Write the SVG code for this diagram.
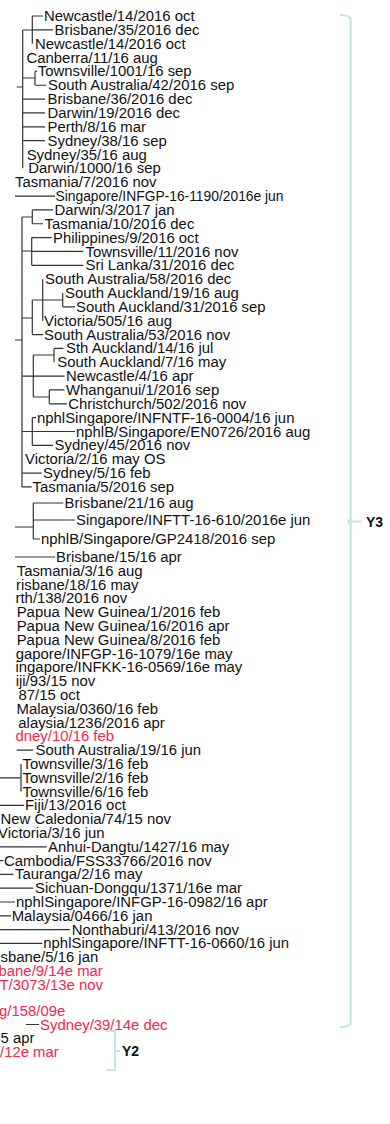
<svg xmlns="http://www.w3.org/2000/svg" width="390" height="1124" viewBox="0 0 390 1124">
<style>
.t{font-family:"Liberation Sans",Arial,Helvetica,sans-serif;font-size:14.9px;fill:#111}
.r{fill:#ee2a4e}
.br{stroke:#333;stroke-width:1.2;fill:none}
.bk{stroke:#c5e4e8;stroke-width:2;fill:none}
.y{font-family:"Liberation Sans",Arial,Helvetica,sans-serif;font-size:14px;font-weight:bold;fill:#111}
</style>
<rect width="390" height="1124" fill="#fff"/>
<g id="connectors" class="br">
<path d="M32.3 16V43.7M32.3 16H43M32.3 29.85H53M22.7 30H32.3M22.7 30V168.35M35 71.4V85.25M35 71.4H37M35 85.25H46.5M22.7 78H35M22.7 99.1H45M22.7 112.95H45M22.7 126.8H45M22.7 140.65H45M16.7 87H22.7M15 196.05H55"/>
<path d="M22 217V486.9M32.3 209.9V223.75M32.3 209.9H53M32.3 223.75H43M22 217H32.3M31.7 237.6V265.3M31.7 237.6H51.7M31.7 251.45H83.3M31.7 265.3H83.3M22 251H31.7M42.7 279.15V320.7M62.7 293V306.85M62.7 306.85H75M42.7 300H62.7M32.3 300V334.55M32.3 300H42.7M32.3 334.55H43M22 318H32.3M15 340H22"/>
<path d="M33.3 355V397M54 348.4V362.25M54 348.4H63.5M33.3 355H54M33.3 376.1H64.5M49.3 389.95V403.8M49.3 389.95H64.5M49.3 403.8H67M33.3 397H49.3M22 376.1H33.3M32.3 417.65V445.35M32.3 417.65H36M32.3 431.5H75M32.3 445.35H53M22 431.5H32.3M22 473.05H41.7M22 486.9H31.7"/>
<path d="M33.3 503V539M33.3 503H63.3M33.3 520H75M33.3 539H40M15 527H33.3M15 557H55"/>
<path d="M16.7 750.2H33.3M21 764V791.6M0 777.8H21M0 805.4H24M0 846.8H46.7M0 860.6H3.5M0 874.4H13.5M0 888.2H33.3M0 902H15M0 915.8H11M0 929.6H70M0 943.4H42.3M26 1024.5H39"/>
</g>
<g id="brackets" class="bk">
<path d="M340 15Q350.7 15 350.7 20V1022Q350.7 1027 340 1027"/>
<path d="M350.7 518L348 521.5L350.7 525M350.7 521.5H362"/>
<path d="M106 1031H115V1070H106M115 1051H120"/>
</g>
<g id="n1"><text class="t" x="44" y="21">Newcastle/14/2016 oct</text></g>
<g id="n2"><text class="t" x="54.5" y="34.9">Brisbane/35/2016 dec</text></g>
<g id="n3"><text class="t" x="35" y="48.7">Newcastle/14/2016 oct</text></g>
<g id="n4"><text class="t" x="26.5" y="62.6">Canberra/11/16 aug</text></g>
<g id="n5"><text class="t" x="37.7" y="76.4">Townsville/1001/16 sep</text></g>
<g id="n6"><text class="t" x="48" y="90.3">South Australia/42/2016 sep</text></g>
<g id="n7"><text class="t" x="47.5" y="104.1">Brisbane/36/2016 dec</text></g>
<g id="n8"><text class="t" x="47.5" y="118">Darwin/19/2016 dec</text></g>
<g id="n9"><text class="t" x="47.5" y="131.8">Perth/8/16 mar</text></g>
<g id="n10"><text class="t" x="47.5" y="145.7">Sydney/38/16 sep</text></g>
<g id="n11"><text class="t" x="26.7" y="159.5">Sydney/35/16 aug</text></g>
<g id="n12"><text class="t" x="28.3" y="173.4">Darwin/1000/16 sep</text></g>
<g id="n13"><text class="t" x="15" y="187.2">Tasmania/7/2016 nov</text></g>
<g id="n14"><text class="t" x="55.5" y="201.1" textLength="228" lengthAdjust="spacingAndGlyphs">Singapore/INFGP-16-1190/2016e jun</text></g>
<g id="n15"><text class="t" x="54.5" y="214.9">Darwin/3/2017 jan</text></g>
<g id="n16"><text class="t" x="44.5" y="228.8">Tasmania/10/2016 dec</text></g>
<g id="n17"><text class="t" x="53" y="242.6">Philippines/9/2016 oct</text></g>
<g id="n18"><text class="t" x="85.5" y="256.5">Townsville/11/2016 nov</text></g>
<g id="n19"><text class="t" x="85.5" y="270.3">Sri Lanka/31/2016 dec</text></g>
<g id="n20"><text class="t" x="45" y="284.2">South Australia/58/2016 dec</text></g>
<g id="n21"><text class="t" x="65" y="298">South Auckland/19/16 aug</text></g>
<g id="n22"><text class="t" x="76" y="311.9">South Auckland/31/2016 sep</text></g>
<g id="n23"><text class="t" x="44" y="325.7">Victoria/505/16 aug</text></g>
<g id="n24"><text class="t" x="44" y="339.6">South Australia/53/2016 nov</text></g>
<g id="n25"><text class="t" x="66" y="353.4">Sth Auckland/14/16 jul</text></g>
<g id="n26"><text class="t" x="57.3" y="367.3">South Auckland/7/16 may</text></g>
<g id="n27"><text class="t" x="66" y="381.1">Newcastle/4/16 apr</text></g>
<g id="n28"><text class="t" x="66" y="395">Whanganui/1/2016 sep</text></g>
<g id="n29"><text class="t" x="68.3" y="408.8">Christchurch/502/2016 nov</text></g>
<g id="n30"><text class="t" x="37" y="422.7">nphlSingapore/INFNTF-16-0004/16 jun</text></g>
<g id="n31"><text class="t" x="76" y="436.5">nphlB/Singapore/EN0726/2016 aug</text></g>
<g id="n32"><text class="t" x="54.5" y="450.4">Sydney/45/2016 nov</text></g>
<g id="n33"><text class="t" x="25" y="464.2">Victoria/2/16 may OS</text></g>
<g id="n34"><text class="t" x="43" y="478.1">Sydney/5/16 feb</text></g>
<g id="n35"><text class="t" x="32.5" y="491.9">Tasmania/5/2016 sep</text></g>
<g id="n36"><text class="t" x="64.5" y="508">Brisbane/21/16 aug</text></g>
<g id="n37"><text class="t" x="76" y="525">Singapore/INFTT-16-610/2016e jun</text></g>
<g id="n38"><text class="t" x="41" y="544">nphlB/Singapore/GP2418/2016 sep</text></g>
<g id="n39"><text class="t" x="56" y="562">Brisbane/15/16 apr</text></g>
<g id="n40"><text class="t" x="16.7" y="575.8">Tasmania/3/16 aug</text></g>
<g id="n41"><text class="t" x="16" y="589.6">risbane/18/16 may</text></g>
<g id="n42"><text class="t" x="15.5" y="603.4">rth/138/2016 nov</text></g>
<g id="n43"><text class="t" x="16.7" y="617.2">Papua New Guinea/1/2016 feb</text></g>
<g id="n44"><text class="t" x="16.7" y="631">Papua New Guinea/16/2016 apr</text></g>
<g id="n45"><text class="t" x="16.7" y="644.8">Papua New Guinea/8/2016 feb</text></g>
<g id="n46"><text class="t" x="15.7" y="658.6">gapore/INFGP-16-1079/16e may</text></g>
<g id="n47"><text class="t" x="15.5" y="672.4">ingapore/INFKK-16-0569/16e may</text></g>
<g id="n48"><text class="t" x="15.7" y="686.2">iji/93/15 nov</text></g>
<g id="n49"><text class="t" x="18.5" y="700">87/15 oct</text></g>
<g id="n50"><text class="t" x="16.5" y="713.8">Malaysia/0360/16 feb</text></g>
<g id="n51"><text class="t" x="18.3" y="727.6">alaysia/1236/2016 apr</text></g>
<g id="n52"><text class="t r" x="15.5" y="741.4">dney/10/16 feb</text></g>
<g id="n53"><text class="t" x="35.5" y="755.2">South Australia/19/16 jun</text></g>
<g id="n54"><text class="t" x="22.5" y="769">Townsville/3/16 feb</text></g>
<g id="n55"><text class="t" x="22.5" y="782.8">Townsville/2/16 feb</text></g>
<g id="n56"><text class="t" x="22.5" y="796.6">Townsville/6/16 feb</text></g>
<g id="n57"><text class="t" x="25" y="810.4">Fiji/13/2016 oct</text></g>
<g id="n58"><text class="t" x="0.5" y="824.2">New Caledonia/74/15 nov</text></g>
<g id="n59"><text class="t" x="-2" y="838">Victoria/3/16 jun</text></g>
<g id="n60"><text class="t" x="48" y="851.8">Anhui-Dangtu/1427/16 may</text></g>
<g id="n61"><text class="t" x="4" y="865.6">Cambodia/FSS33766/2016 nov</text></g>
<g id="n62"><text class="t" x="15" y="879.4">Tauranga/2/16 may</text></g>
<g id="n63"><text class="t" x="35" y="893.2">Sichuan-Dongqu/1371/16e mar</text></g>
<g id="n64"><text class="t" x="16" y="907">nphlSingapore/INFGP-16-0982/16 apr</text></g>
<g id="n65"><text class="t" x="11.7" y="920.8">Malaysia/0466/16 jan</text></g>
<g id="n66"><text class="t" x="71.7" y="934.6">Nonthaburi/413/2016 nov</text></g>
<g id="n67"><text class="t" x="43.3" y="948.4">nphlSingapore/INFTT-16-0660/16 jun</text></g>
<g id="n68"><text class="t" x="0.5" y="962.2">sbane/5/16 jan</text></g>
<g id="n69"><text class="t r" x="-1.5" y="976">bane/9/14e mar</text></g>
<g id="n70"><text class="t r" x="-0.5" y="989.8">T/3073/13e nov</text></g>
<g id="n72"><text class="t r" x="-1" y="1016">g/158/09e</text></g>
<g id="n73"><text class="t r" x="40" y="1029.5">Sydney/39/14e dec</text></g>
<g id="n74"><text class="t" x="0.5" y="1042.5">5 apr</text></g>
<g id="n75"><text class="t r" x="0" y="1056.5">/12e mar</text></g>
<g id="Y3"><text class="y" x="366" y="526.5">Y3</text></g>
<g id="Y2"><text class="y" x="122" y="1056">Y2</text></g>
</svg>
